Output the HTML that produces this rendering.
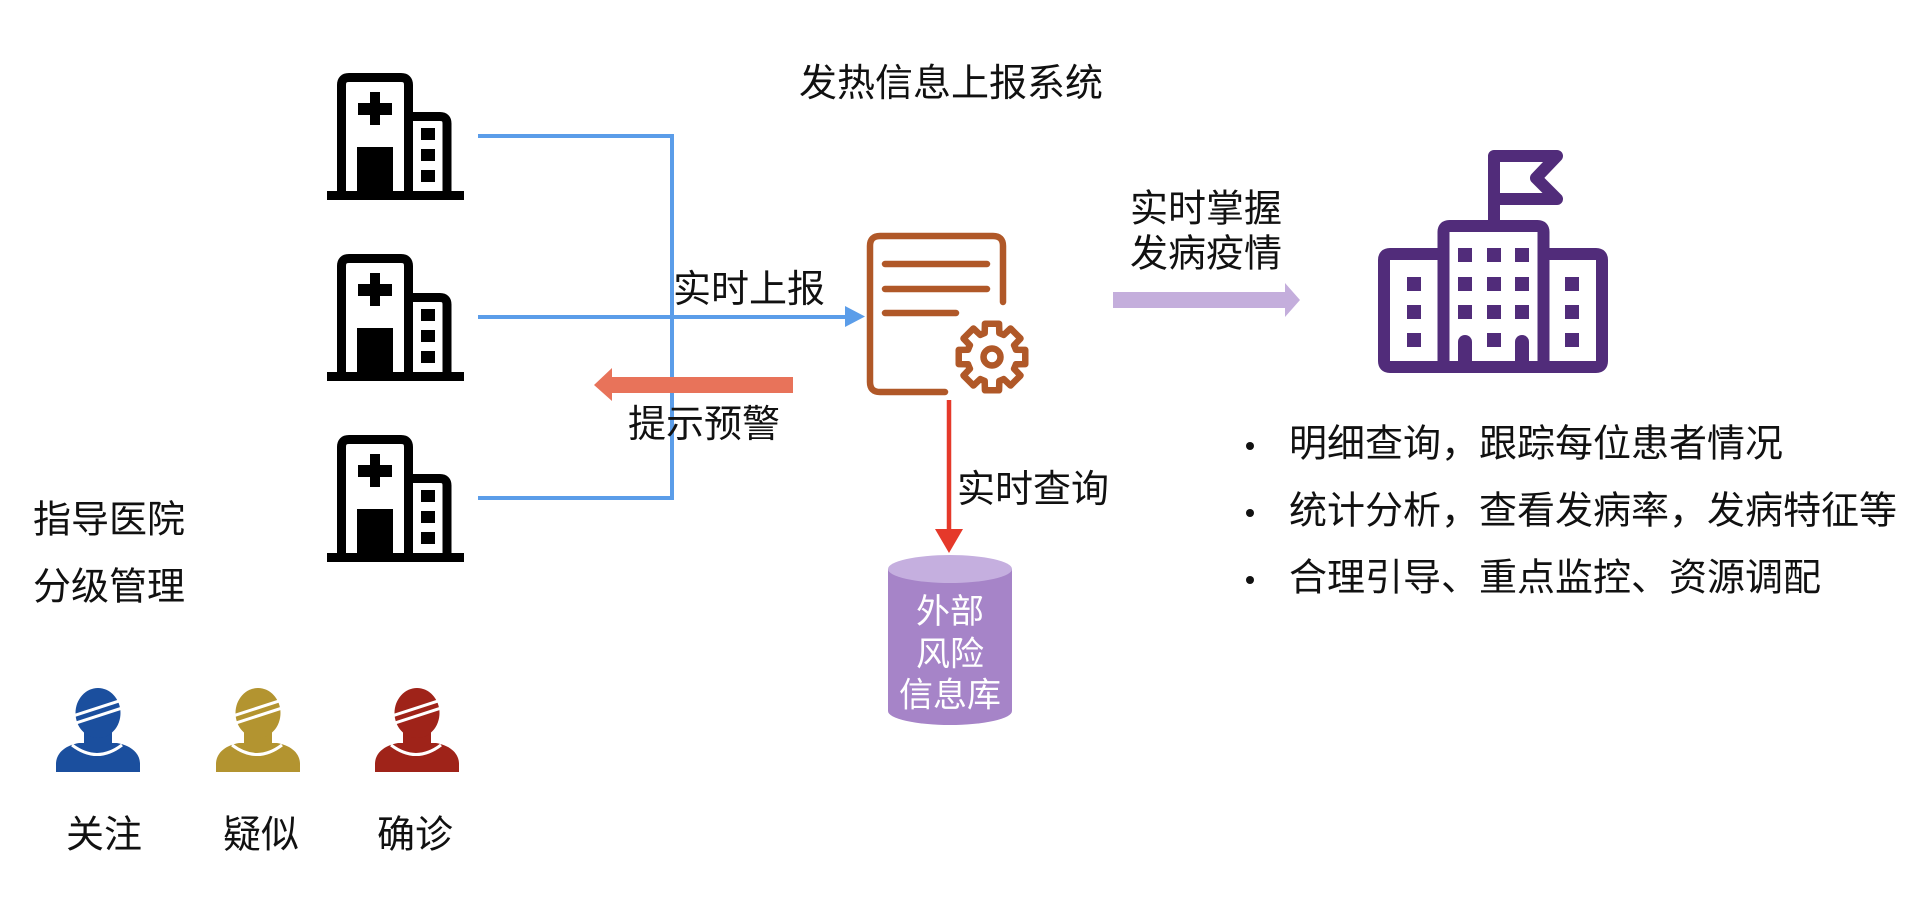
<!DOCTYPE html>
<html>
<head>
<meta charset="utf-8">
<style>
  html, body { margin: 0; padding: 0; background: #ffffff; }
  body { width: 1920px; height: 913px; overflow: hidden; }
  svg { display: block; }
  text { font-family: "Liberation Sans", "Noto Sans CJK SC", sans-serif; }
</style>
</head>
<body>
<svg width="1920" height="913" viewBox="0 0 1920 913" xmlns="http://www.w3.org/2000/svg">
  <defs>
    <g id="hosp">
      <path d="M15.5 121 L15.5 12 Q15.5 4.5 23 4.5 L75 4.5 Q82.5 4.5 82.5 12 L82.5 121" fill="none" stroke="#000" stroke-width="9"/>
      <path d="M82.5 43.5 L114 43.5 Q121 43.5 121 50.5 L121 121" fill="none" stroke="#000" stroke-width="9"/>
      <rect x="1" y="118" width="137" height="9" fill="#000"/>
      <rect x="44" y="19" width="10" height="33" fill="#000"/>
      <rect x="32" y="30" width="34" height="12" fill="#000"/>
      <rect x="31" y="74" width="36" height="46" fill="#000"/>
      <rect x="95" y="55" width="14" height="12" fill="#000"/>
      <rect x="95" y="76" width="14" height="12" fill="#000"/>
      <rect x="95" y="97" width="14" height="12" fill="#000"/>
    </g>
    <path id="tooth" d="M-9.57 -23.10 L-7.31 -23.91 L-7.07 -33.26 L7.07 -33.26 L7.31 -23.91 L9.57 -23.10" fill="none" stroke="#b05828" stroke-width="6.5" stroke-linejoin="round" stroke-linecap="round"/>
    <g id="person">
      <path d="M1 86 L1 78 C1 66 12 59 24 57 L62 57 C74 59 85 66 85 78 L85 86 Z"/>
      <rect x="29" y="42" width="28" height="18"/>
      <ellipse cx="43" cy="27" rx="22.5" ry="25"/>
      <path d="M17 59 Q42 78 67 59" fill="none" stroke="#fff" stroke-width="3"/>
      <path d="M15 30.9 L70 13.1" stroke="#fff" stroke-width="3"/>
      <path d="M15 38.9 L70 21.1" stroke="#fff" stroke-width="3"/>
    </g>
  </defs>

  <!-- Title -->
  <text x="799" y="96" font-size="38" fill="#111">发热信息上报系统</text>

  <!-- Hospitals -->
  <use href="#hosp" x="326" y="73"/>
  <use href="#hosp" x="326" y="254"/>
  <use href="#hosp" x="326" y="435"/>

  <!-- Blue connectors -->
  <path d="M478 136 H672 V498 H478" fill="none" stroke="#5b9de9" stroke-width="4"/>
  <path d="M478 317 H848" fill="none" stroke="#5b9de9" stroke-width="4"/>
  <polygon points="845,306 865,316.5 845,327" fill="#5b9de9"/>
  <text x="673" y="302" font-size="38" fill="#111">实时上报</text>

  <!-- Salmon warning arrow -->
  <polygon points="793,377 612,377 612,368 594,385 612,401 612,393 793,393" fill="#e8735a"/>
  <text x="628" y="437" font-size="38" fill="#111">提示预警</text>

  <!-- Document + gear icon -->
  <path d="M945 392 L880 392 Q870 392 870 382 L870 246 Q870 236 880 236 L993 236 Q1003 236 1003 246 L1003 302" fill="none" stroke="#b05828" stroke-width="6.5" stroke-linecap="round" stroke-linejoin="round"/>
  <path d="M885 264 H987 M885 289 H987 M885 313 H956" fill="none" stroke="#b05828" stroke-width="6.5" stroke-linecap="round"/>
  <g transform="translate(992,357)">
    <use href="#tooth" transform="rotate(0)"/>
    <use href="#tooth" transform="rotate(45)"/>
    <use href="#tooth" transform="rotate(90)"/>
    <use href="#tooth" transform="rotate(135)"/>
    <use href="#tooth" transform="rotate(180)"/>
    <use href="#tooth" transform="rotate(225)"/>
    <use href="#tooth" transform="rotate(270)"/>
    <use href="#tooth" transform="rotate(315)"/>
    <circle cx="0" cy="0" r="8.5" fill="none" stroke="#b05828" stroke-width="6.5"/>
  </g>

  <!-- Red query arrow -->
  <path d="M949 400 V532" stroke="#e5392a" stroke-width="4.5" fill="none"/>
  <polygon points="935,529 963,529 949,553" fill="#e5392a"/>
  <text x="957" y="502" font-size="38" fill="#111">实时查询</text>

  <!-- Cylinder -->
  <rect x="888" y="569" width="124" height="142" fill="#a684c8"/>
  <ellipse cx="950" cy="711" rx="62" ry="14" fill="#a684c8"/>
  <ellipse cx="950" cy="569" rx="62" ry="14" fill="#c5afdf"/>
  <text x="950" y="623" font-size="34" fill="#ffffff" text-anchor="middle">外部</text>
  <text x="950" y="665.5" font-size="34" fill="#ffffff" text-anchor="middle">风险</text>
  <text x="950" y="706.5" font-size="34" fill="#ffffff" text-anchor="middle">信息库</text>

  <!-- Light purple arrow -->
  <polygon points="1113,292 1285,292 1285,283 1300,300 1285,317 1285,308 1113,308" fill="#c4aedc"/>
  <text x="1130" y="221.5" font-size="38" fill="#111">实时掌握</text>
  <text x="1130" y="266.5" font-size="38" fill="#111">发病疫情</text>

  <!-- Purple government building -->
  <g fill="none" stroke="#512c7a" stroke-width="12" stroke-linejoin="round">
    <path d="M1494 226 L1494 156 L1557 156 L1536 178 L1557 199 L1494 199"/>
    <path d="M1443.5 367 L1443.5 232 Q1443.5 226 1449.5 226 L1537.5 226 Q1543.5 226 1543.5 232 L1543.5 367"/>
    <path d="M1443.5 254 L1390 254 Q1384 254 1384 260 L1384 361 Q1384 367 1390 367 L1596 367 Q1602 367 1602 361 L1602 260 Q1602 254 1596 254 L1543.5 254"/>
  </g>
  <g fill="#512c7a">
    <rect x="1458" y="248" width="14" height="14"/>
    <rect x="1487" y="248" width="14" height="14"/>
    <rect x="1515" y="248" width="14" height="14"/>
    <rect x="1458" y="277" width="14" height="14"/>
    <rect x="1487" y="277" width="14" height="14"/>
    <rect x="1515" y="277" width="14" height="14"/>
    <rect x="1458" y="305" width="14" height="14"/>
    <rect x="1487" y="305" width="14" height="14"/>
    <rect x="1515" y="305" width="14" height="14"/>
    <rect x="1487" y="333" width="14" height="14"/>
    <path d="M1458 362 L1458 342 A7 7 0 0 1 1472 342 L1472 362 Z"/>
    <path d="M1515 362 L1515 342 A7 7 0 0 1 1529 342 L1529 362 Z"/>
    <rect x="1407" y="277" width="14" height="14"/>
    <rect x="1407" y="305" width="14" height="14"/>
    <rect x="1407" y="333" width="14" height="14"/>
    <rect x="1565" y="277" width="14" height="14"/>
    <rect x="1565" y="305" width="14" height="14"/>
    <rect x="1565" y="333" width="14" height="14"/>
  </g>

  <!-- Bullets -->
  <circle cx="1250" cy="446" r="4" fill="#111"/>
  <circle cx="1250" cy="513" r="4" fill="#111"/>
  <circle cx="1250" cy="580" r="4" fill="#111"/>
  <text x="1289" y="456.5" font-size="38" fill="#111">明细查询，跟踪每位患者情况</text>
  <text x="1289" y="523.5" font-size="38" fill="#111">统计分析，查看发病率，发病特征等</text>
  <text x="1289" y="590.5" font-size="38" fill="#111">合理引导、重点监控、资源调配</text>

  <!-- Left labels -->
  <text x="33" y="532.5" font-size="38" fill="#111">指导医院</text>
  <text x="33" y="599.5" font-size="38" fill="#111">分级管理</text>

  <!-- People -->
  <use href="#person" x="55" y="686" fill="#1b4f9e"/>
  <use href="#person" x="215" y="686" fill="#b39430"/>
  <use href="#person" x="374" y="686" fill="#9f2319"/>
  <text x="66" y="847.5" font-size="38" fill="#111">关注</text>
  <text x="223" y="847.5" font-size="38" fill="#111">疑似</text>
  <text x="377" y="847.5" font-size="38" fill="#111">确诊</text>
</svg>
</body>
</html>
